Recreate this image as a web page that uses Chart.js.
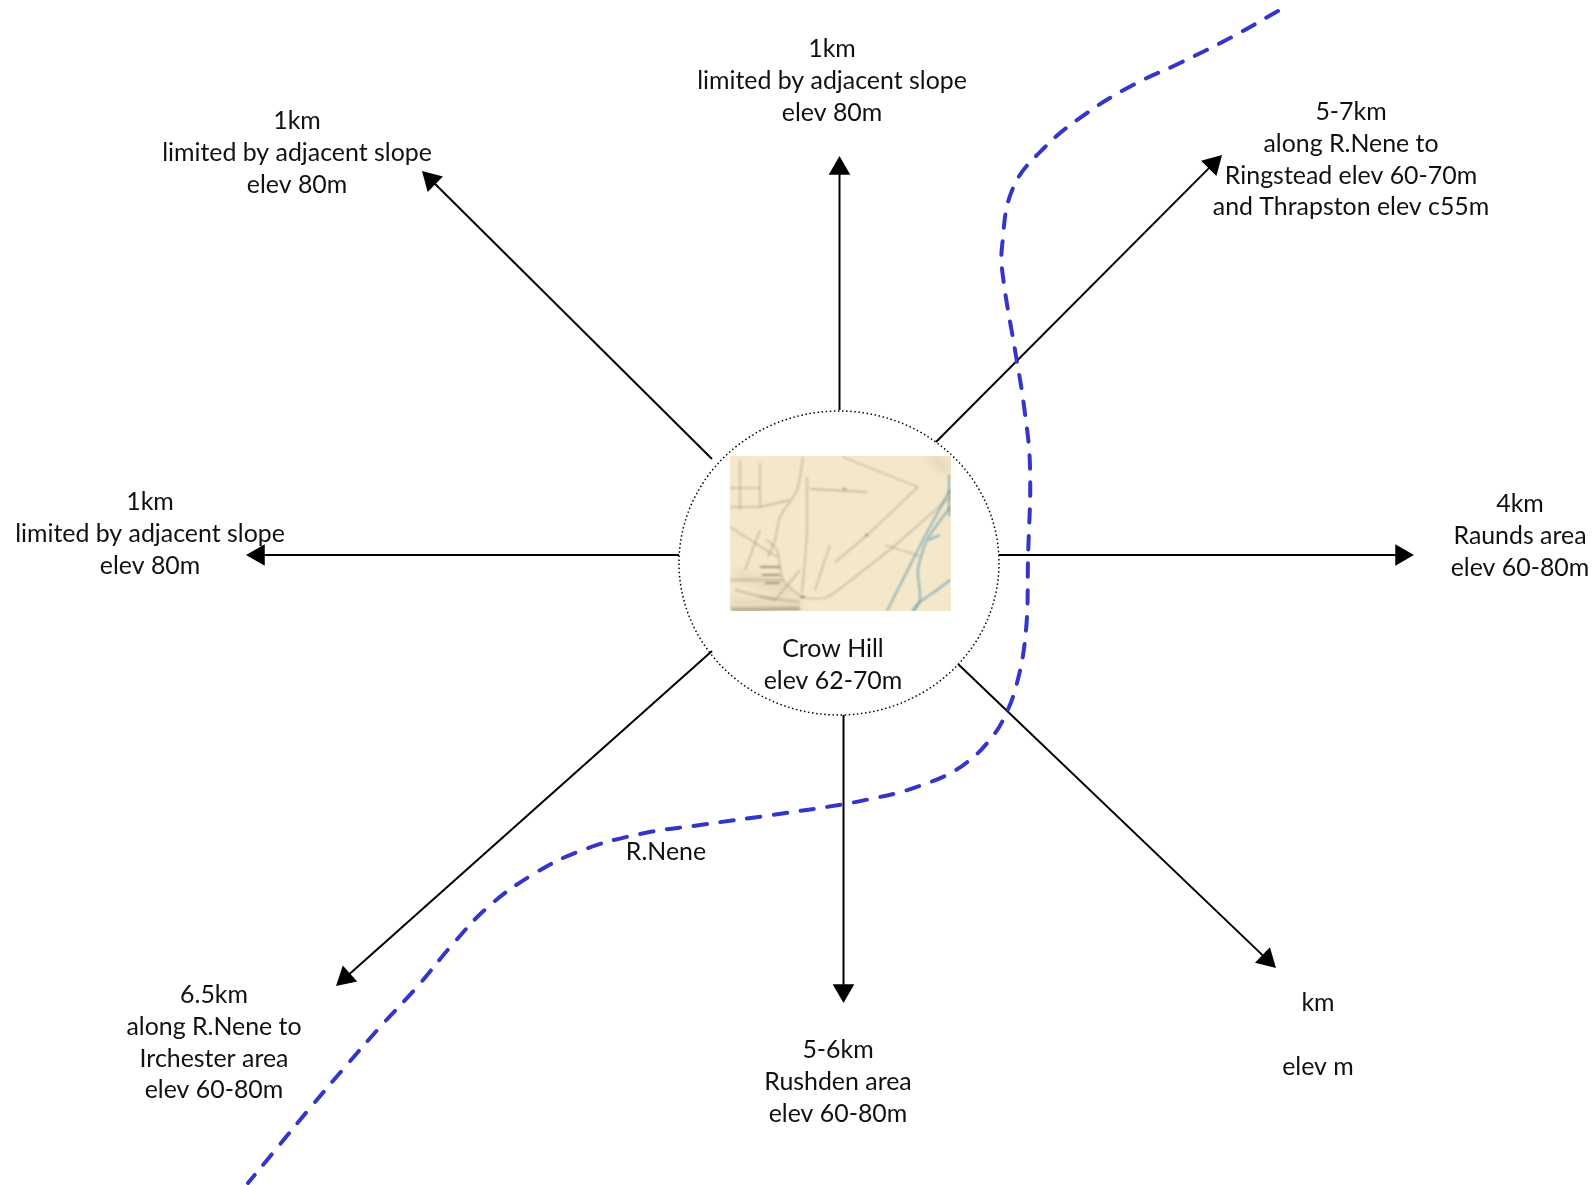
<!DOCTYPE html>
<html><head><meta charset="utf-8"><title>Crow Hill catchment diagram</title>
<style>html,body{margin:0;padding:0;background:#fff}canvas{display:block}</style>
<script src="https://cdn.jsdelivr.net/npm/chart.js@4"></script></head>
<body><canvas id="c" width="1593" height="1185"></canvas>
<script>
// Arrows: [start x, start y, tip x, tip y]
const arrowUpLeft    = [712,459,422,171];
const arrowUp        = [839.5,410,839.5,156];
const arrowUpRight   = [936,442,1222,155];
const arrowRight     = [999,555,1414,555];
const arrowLeft      = [679,555,246,555];
const arrowDownLeft  = [712,651,336,986];
const arrowDown      = [843.5,715,843.5,1003];
const arrowDownRight = [958,664,1276,968];
const arrows = [arrowUpLeft,arrowUp,arrowUpRight,arrowRight,arrowLeft,arrowDownLeft,arrowDown,arrowDownRight];

const riverX = [1278,1232,1180,1133,1087,1045,1013,1002,1003,1016,1024,1030,1028,1026,1017,1003,988,970,947,922,897,870,845,772,700,640,580,532,488,452,417,380,345,310,277,248];
const riverY = [11,37,63,85,113,147,188,247,277,356,406,467,559,630,683,720,742,760,775,785,793,799,804,815,825,834,851,875,907,945,987,1027,1067,1108,1148,1183];

// Site circle and map inset
const siteCircle = [839,563,160,152];
const mapBox = [730,456,951,611];
// Map-inset features as x,y runs
const mapRoads = [
 [843,457,918,487],[918,487,865,537,835,562],
 [950,497,893,547,860,573,827,597,803,597,783,580,777,550,767,540],
 [807,477,807,533,802,593],
 [803,457,797,490,780,517,775,540,768,557],
 [810,489,867,492],
 [730,488,760,488],[730,507,760,507],[760,463,760,507],[740,460,740,510],
 [730,527,777,557],[760,507,790,500],[730,580,783,580],[760,597,800,602],[730,608,800,607],
 [885,545,920,556],[735,590,775,600],[775,600,800,570],[815,590,830,545],[760,530,745,570]
];
const mapHaze = [[730,603,800,603],[735,575,790,590],[930,457,950,470]];
const mapDark = [[760,567,780,567],[762,575,780,575],[765,583,780,583],[732,610,800,609],[800,597,805,597],[843,489,846,489],[865,535,868,535]];
const mapWater = [
 [950,490,923,540,887,611],
 [950,507,927,540,918,570,920,600,913,611],
 [950,580,937,590,920,602,913,611],
 [928,540,940,535],
 [949,475,949,516]
];

// Labels: x, first line y, lines
const labelUpLeft    = {x:297,y:121,lines:["1km","limited by adjacent slope","elev 80m"]};
const labelUp        = {x:832,y:49,lines:["1km","limited by adjacent slope","elev 80m"]};
const labelUpRight   = {x:1351,y:112,lines:["5-7km","along R.Nene to","Ringstead elev 60-70m","and Thrapston elev c55m"]};
const labelRight     = {x:1520,y:504,lines:["4km","Raunds area","elev 60-80m"]};
const labelLeft      = {x:150,y:502,lines:["1km","limited by adjacent slope","elev 80m"]};
const labelDownLeft  = {x:214,y:995,lines:["6.5km","along R.Nene to","Irchester area","elev 60-80m"]};
const labelDown      = {x:838,y:1050,lines:["5-6km","Rushden area","elev 60-80m"]};
const labelDownRight = {x:1318,y:1003,lines:["km","","elev m"]};
const labelSite      = {x:833,y:649,lines:["Crow Hill","elev 62-70m"]};
const labelRiver     = {x:666,y:852,lines:["R.Nene"]};
const labels = [labelUpLeft,labelUp,labelUpRight,labelRight,labelLeft,labelDownLeft,labelDown,labelDownRight,labelSite,labelRiver];

function toPts(r){const p=[];for(let i=0;i<r.length;i+=2)p.push({x:r[i],y:r[i+1]});return p;}
function featureSet(r,color,w){return {data:toPts(r),borderColor:color,borderWidth:w,pointRadius:0,tension:0.25,showLine:true,blur:true,fill:false};}

const datasets=[];
mapHaze.forEach(r=>datasets.push(featureSet(r,'rgba(190,175,145,0.3)',9)));
mapRoads.forEach(r=>datasets.push(featureSet(r,'rgba(150,135,110,0.55)',1.3)));
mapDark.forEach(r=>datasets.push(featureSet(r,'rgba(95,85,70,0.7)',1.6)));
mapWater.forEach(r=>datasets.push(featureSet(r,'rgba(100,150,170,0.85)',1.6)));
datasets.push({data:riverX.map((x,i)=>({x,y:riverY[i]})),borderColor:'#3535cc',borderWidth:4,borderDash:[13.5,13.5],borderCapStyle:'round',pointRadius:0,tension:0.4,showLine:true,fill:false,clip:false});
arrows.forEach(a=>{
  const rot=Math.atan2(a[3]-a[1],a[2]-a[0])*180/Math.PI+90;
  const len=Math.hypot(a[2]-a[0],a[3]-a[1]);
  datasets.push({data:[{x:a[0],y:a[1]},{x:a[2]-(a[2]-a[0])/len*12.5,y:a[3]-(a[3]-a[1])/len*12.5}],
    borderColor:'#000',borderWidth:2,showLine:true,fill:false,clip:false,pointBorderWidth:0,pointBackgroundColor:'#000',
    pointStyle:'triangle',pointRadius:[0,12.5],pointRotation:[0,rot]});
});

const drawPlugin={id:'diagram',
  beforeDatasetsDraw(ch){
    const {ctx,scales:{x,y}}=ch;
    ctx.save();
    ctx.fillStyle='#f3e8ca';
    ctx.fillRect(x.getPixelForValue(mapBox[0]),y.getPixelForValue(mapBox[1]),x.getPixelForValue(mapBox[2])-x.getPixelForValue(mapBox[0]),y.getPixelForValue(mapBox[3])-y.getPixelForValue(mapBox[1]));
    ctx.strokeStyle='#000';ctx.lineWidth=1.5;ctx.setLineDash([1.5,2.6]);
    ctx.beginPath();
    ctx.ellipse(x.getPixelForValue(siteCircle[0]),y.getPixelForValue(siteCircle[1]),siteCircle[2],siteCircle[3],0,0,Math.PI*2);
    ctx.stroke();
    ctx.restore();
  },
  beforeDatasetDraw(ch,args){
    const ds=ch.data.datasets[args.index];
    if(ds&&ds.blur){
      const {ctx,scales:{x,y}}=ch;
      ctx.save();
      ctx.beginPath();
      ctx.rect(x.getPixelForValue(mapBox[0]),y.getPixelForValue(mapBox[1]),x.getPixelForValue(mapBox[2])-x.getPixelForValue(mapBox[0]),y.getPixelForValue(mapBox[3])-y.getPixelForValue(mapBox[1]));
      ctx.clip();
      ctx.filter=ds.borderWidth>5?'blur(4px)':'blur(0.9px)';
    }
  },
  afterDatasetDraw(ch,args){
    const ds=ch.data.datasets[args.index];
    if(ds&&ds.blur){ch.ctx.filter='none';ch.ctx.restore();}
  },
  afterDatasetsDraw(ch){
    const {ctx,scales:{x,y}}=ch;
    ctx.save();
    ctx.fillStyle='#111';ctx.font='24.9px Lato';ctx.textAlign='center';ctx.textBaseline='middle';
    labels.forEach(l=>l.lines.forEach((t,i)=>{ctx.fillText(t,x.getPixelForValue(l.x),y.getPixelForValue(l.y+i*31.8));}));
    ctx.restore();
  }
};

new Chart(document.getElementById('c'),{
  type:'scatter',
  data:{datasets},
  plugins:[drawPlugin],
  options:{responsive:false,animation:false,events:[],
    layout:{padding:0,autoPadding:false},
    plugins:{legend:{display:false},tooltip:{enabled:false},title:{display:false}},
    scales:{
      x:{type:'linear',display:false,min:0,max:1593},
      y:{type:'linear',display:false,min:0,max:1185,reverse:true}
    }}
});
</script></body></html>
